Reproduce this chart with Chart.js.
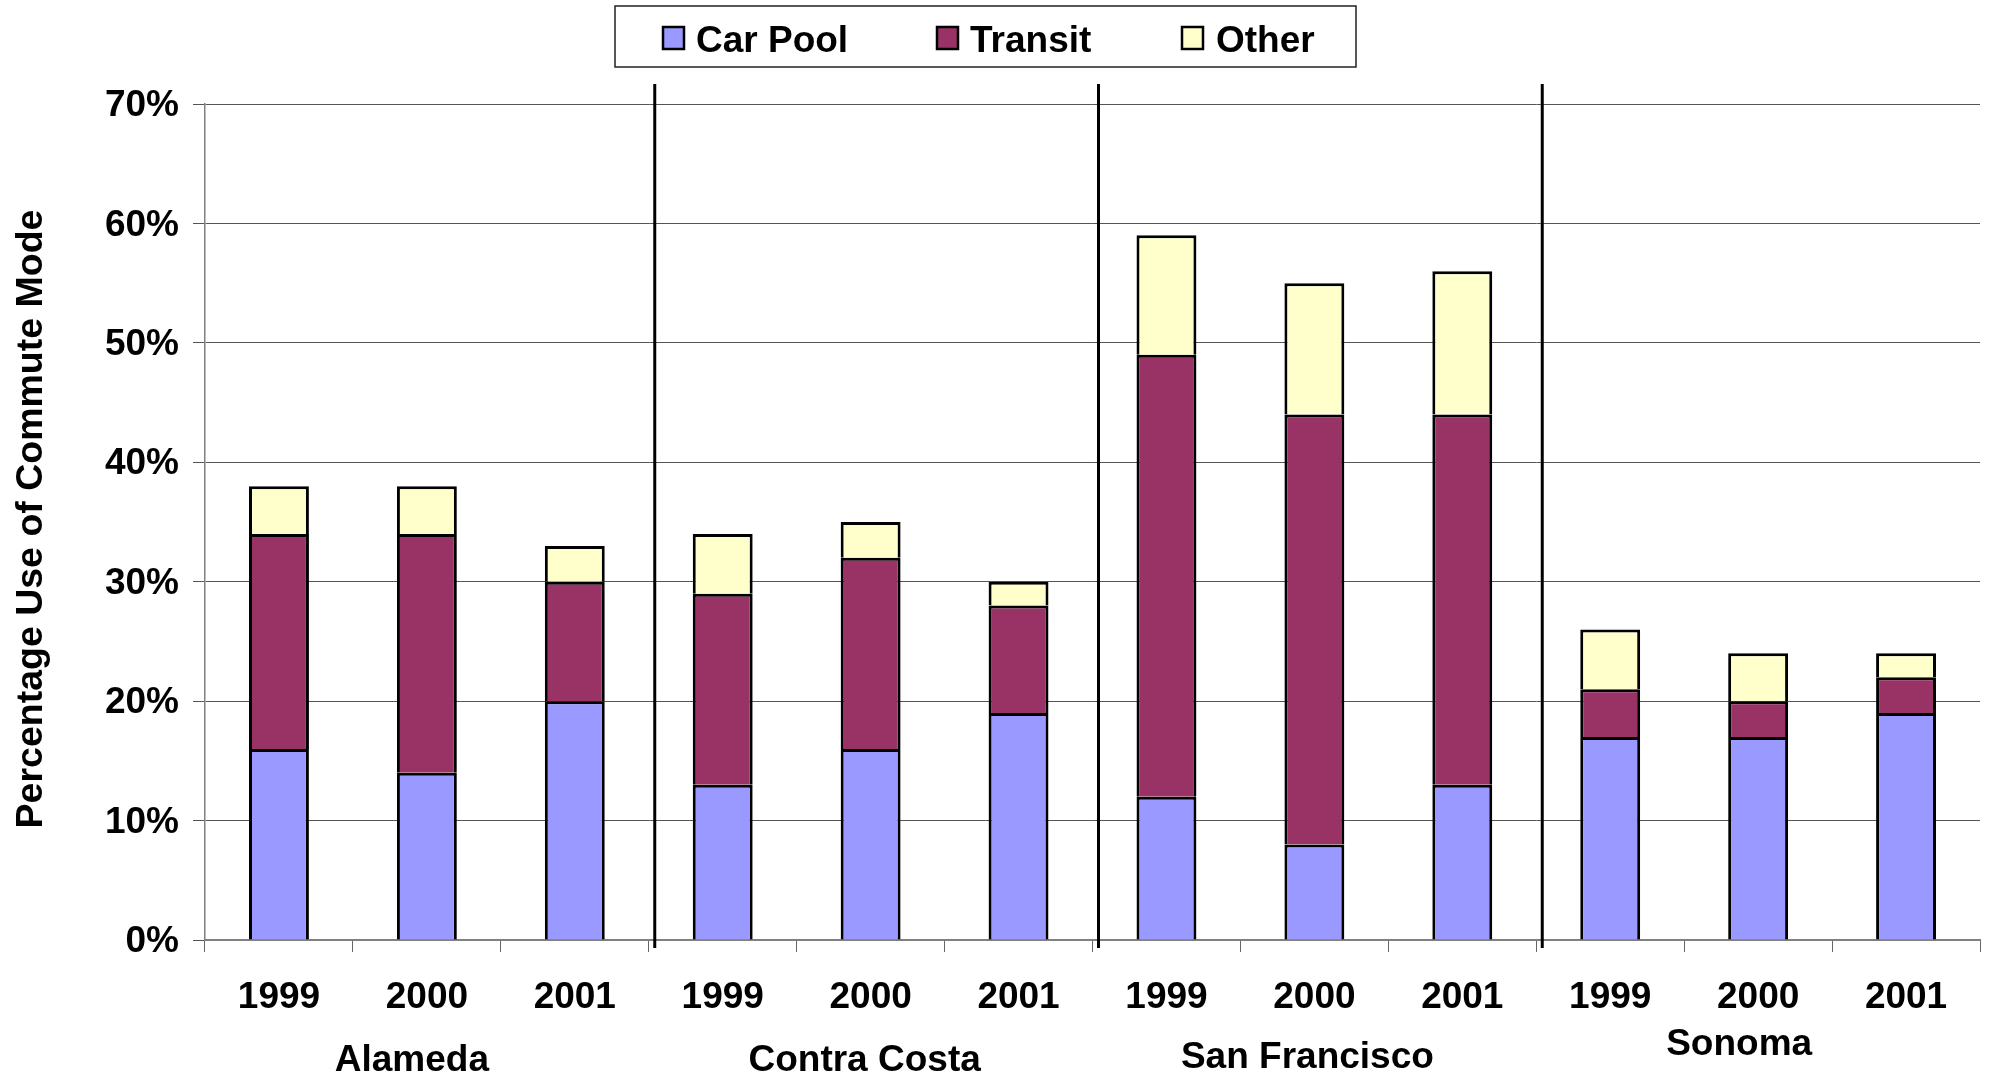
<!DOCTYPE html>
<html><head><meta charset="utf-8">
<script src="https://cdn.jsdelivr.net/npm/chart.js@4.4.1/dist/chart.umd.min.js"></script>
<style>html,body{margin:0;padding:0;background:#fff;}#wrap{width:1993px;height:1077px;position:relative;}</style>
</head><body><div id="wrap"><canvas id="c" width="1993" height="1077"></canvas></div>
<script>
const years = ['1999','2000','2001','1999','2000','2001','1999','2000','2001','1999','2000','2001'];
const counties = ['Alameda','Contra Costa','San Francisco','Sonoma'];
const carPool = [16,14,20,13,16,19,12,8,13,17,17,19];
const transit = [18,20,10,16,16,9,37,36,31,4,3,3];
const other   = [4,4,3,5,3,2,10,11,12,5,4,2];
const seriesNames = ['Car Pool','Transit','Other'];
const yTickValues = [0,10,20,30,40,50,60,70];
const yTitle = 'Percentage Use of Commute Mode';

const FONT = "'Liberation Sans',Arial,sans-serif";
const colors = ['#9999FF','#993366','#FFFFCC'];

// style-only placement tweaks for group labels (offset from group centre, baseline y)
const groupLabelDx = [-15,-6,-7,-19];
const groupLabelY  = [1071,1071,1068,1055];

const groupPlugin = {
  id:'groups',
  afterDatasetsDraw(chart){
    const ctx = chart.ctx, xs = chart.scales.x, ca = chart.chartArea;
    ctx.save();
    ctx.strokeStyle = '#000'; ctx.lineWidth = 3;
    for (let g=1; g<counties.length; g++){
      const i = g*3;
      const x = (xs.getPixelForValue(i-1)+xs.getPixelForValue(i))/2 + 6;
      ctx.beginPath(); ctx.moveTo(x, ca.top-20); ctx.lineTo(x, ca.bottom+8); ctx.stroke();
    }
    ctx.restore();
  },
  afterDraw(chart){
    const ctx = chart.ctx, xs = chart.scales.x;
    ctx.save();
    ctx.fillStyle = '#000';
    ctx.font = "bold 37px " + FONT;
    ctx.textAlign = 'center'; ctx.textBaseline = 'alphabetic';
    counties.forEach((c,g)=>{
      const x = xs.getPixelForValue(g*3+1) + groupLabelDx[g];
      ctx.fillText(c, x, groupLabelY[g]);
    });
    // y title
    ctx.save();
    ctx.font = "bold 37.5px " + FONT;
    ctx.translate(42, 519); ctx.rotate(-Math.PI/2);
    ctx.fillText(yTitle, 0, 0);
    ctx.restore();
    // legend
    const lx=615, ly=6, lw=741, lh=61;
    ctx.fillStyle='#fff'; ctx.fillRect(lx,ly,lw,lh);
    ctx.strokeStyle='#222'; ctx.lineWidth=1.5; ctx.strokeRect(lx,ly,lw,lh);
    const swX=[663,937,1182], txX=[696,970,1216];
    chart.data.datasets.forEach((ds,i)=>{
      ctx.fillStyle = ds.backgroundColor;
      ctx.fillRect(swX[i],27,21,22);
      ctx.strokeStyle='#000'; ctx.lineWidth=2.5; ctx.strokeRect(swX[i],27,21,22);
      ctx.fillStyle='#000'; ctx.textAlign='left'; ctx.textBaseline='alphabetic';
      ctx.font = "bold 37px " + FONT;
      ctx.fillText(ds.label, txX[i], 52);
    });
    ctx.restore();
  }
};

new Chart(document.getElementById('c'), {
  type:'bar',
  data:{
    labels: years,
    datasets:[
      {label:seriesNames[0], data:carPool, backgroundColor:colors[0]},
      {label:seriesNames[1], data:transit, backgroundColor:colors[1]},
      {label:seriesNames[2], data:other, backgroundColor:colors[2]}
    ].map(d=>Object.assign(d,{borderColor:'#000',borderWidth:3,barPercentage:0.405,categoryPercentage:1}))
  },
  options:{
    responsive:false, animation:false, devicePixelRatio:1,
    layout:{padding:{left:0,right:13,top:104,bottom:0}},
    plugins:{legend:{display:false},title:{display:false},tooltip:{enabled:false}},
    scales:{
      x:{
        stacked:true,
        afterFit(s){ s.height = 137; },
        grid:{drawOnChartArea:false, drawTicks:true, tickLength:12, color:'#666', offset:true},
        border:{color:'#808080', width:2},
        ticks:{color:'#000', font:{family:FONT, size:37, weight:'bold'}, padding:24, maxRotation:0, autoSkip:false}
      },
      y:{
        stacked:true, min:0, max:70,
        afterFit(s){ s.width = 205; },
        afterBuildTicks(s){ s.ticks = yTickValues.map(v=>({value:v})); },
        grid:{color:'#555', lineWidth:1, tickLength:12},
        border:{color:'#808080', width:1.5},
        ticks:{color:'#000', font:{family:FONT, size:37, weight:'bold'}, padding:14, labelOffset:2, callback:v=>v+'%'}
      }
    }
  },
  plugins:[groupPlugin]
});
</script></body></html>
